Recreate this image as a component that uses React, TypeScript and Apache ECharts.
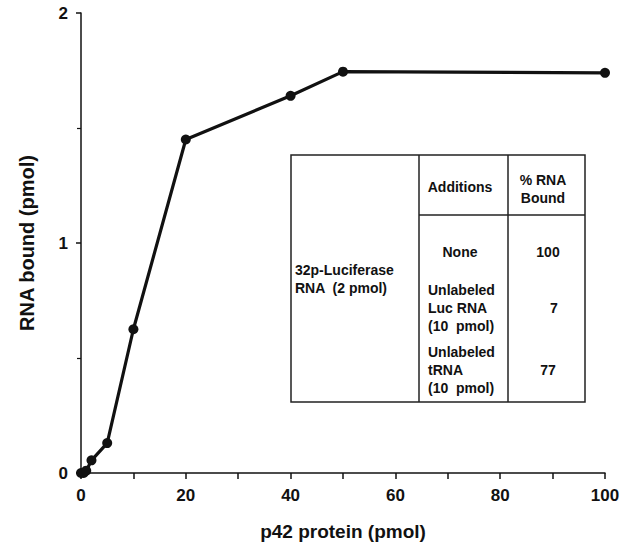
import React, { useEffect, useRef } from "react";
import * as echarts from "echarts";

const proteinPmol = [0, 0.5, 1, 2, 5, 10, 20, 40, 50, 100];
const rnaBound = [0, 0, 0.01, 0.055, 0.13, 0.625, 1.45, 1.64, 1.745, 1.74];

const xTitle = "p42 protein (pmol)";
const yTitle = "RNA bound (pmol)";

const tableHeaders = ["Additions", "% RNA\nBound"];
const tableLeftCell = "32p-Luciferase\nRNA  (2 pmol)";
const tableAdditions = ["None", "Unlabeled\nLuc RNA\n(10  pmol)", "Unlabeled\ntRNA\n(10  pmol)"];
const tablePercent = ["100", "7", "77"];

export default function App() {
  const ref = useRef<HTMLDivElement>(null);
  useEffect(() => {
    if (!ref.current) return;
    const chart = echarts.init(ref.current, undefined, { renderer: "svg" });
    const font = "'Liberation Sans', Arial, Helvetica, sans-serif";
    const T = { x0: 291, x1: 419, x2: 508, x3: 585, y0: 155, yh: 215, y1: 402 };
    const txt = (text: string, x: number, y: number, align: string = "center", lineHeight = 18) => ({
      type: "text",
      x,
      y,
      style: {
        text,
        fill: "#111",
        font: `bold 14px ${font}`,
        textAlign: align,
        textVerticalAlign: "middle",
        lineHeight,
      },
      z: 10,
    });
    const line = (x1: number, y1: number, x2: number, y2: number) => ({
      type: "line",
      shape: { x1, y1, x2, y2 },
      style: { stroke: "#222", lineWidth: 1.5 },
      z: 10,
    });
    chart.setOption({
      animation: false,
      backgroundColor: "#fff",
      grid: { left: 81, width: 524, top: 13, height: 465, containLabel: false },
      xAxis: {
        type: "value",
        min: 0,
        max: 100,
        interval: 20,
        name: xTitle,
        nameLocation: "middle",
        nameGap: 49,
        nameTextStyle: { fontFamily: font, fontWeight: "bold", fontSize: 19, color: "#111" },
        axisLine: { show: true, lineStyle: { color: "#111", width: 1.5 } },
        axisTick: { show: true, length: 6, lineStyle: { color: "#111", width: 1.5 } },
        minorTick: { show: true, splitNumber: 2, length: 6, lineStyle: { color: "#111", width: 1.5 } },
        splitLine: { show: false },
        axisLabel: { fontFamily: font, fontWeight: "bold", fontSize: 17, color: "#111", margin: 14 },
      },
      yAxis: {
        type: "value",
        min: 0,
        max: 2,
        interval: 1,
        name: yTitle,
        nameLocation: "middle",
        nameGap: 44,
        nameTextStyle: { fontFamily: font, fontWeight: "bold", fontSize: 20, color: "#111" },
        axisLine: { show: true, lineStyle: { color: "#111", width: 1.5 } },
        axisTick: { show: true, length: 5, lineStyle: { color: "#111", width: 1.5 } },
        minorTick: { show: true, splitNumber: 2, length: 4, lineStyle: { color: "#111", width: 1.2 } },
        splitLine: { show: false },
        axisLabel: { fontFamily: font, fontWeight: "bold", fontSize: 17, color: "#111", margin: 13 },
      },
      series: [
        {
          type: "line",
          data: proteinPmol.map((x, i) => [x, rnaBound[i]]),
          symbol: "circle",
          symbolSize: 10,
          lineStyle: { color: "#111", width: 3.2 },
          itemStyle: { color: "#111" },
          clip: false,
        },
      ],
      graphic: [
        {
          type: "rect",
          shape: { x: T.x0, y: T.y0, width: T.x3 - T.x0, height: T.y1 - T.y0 },
          style: { fill: "#fff", stroke: "#222", lineWidth: 1.5 },
          z: 9,
        },
        line(T.x1, T.y0, T.x1, T.y1),
        line(T.x2, T.y0, T.x2, T.y1),
        line(T.x1, T.yh, T.x3, T.yh),
        txt(tableHeaders[0], 460, 187),
        txt(tableHeaders[1], 543, 189),
        txt(tableLeftCell, 295, 279, "left"),
        txt(tableAdditions[0], 460, 252),
        txt(tableAdditions[1], 428, 308, "left"),
        txt(tableAdditions[2], 428, 370, "left"),
        txt(tablePercent[0], 548, 252),
        txt(tablePercent[1], 554, 308),
        txt(tablePercent[2], 548, 370),
      ],
    });
    return () => chart.dispose();
  }, []);
  return (
    <div
      ref={ref}
      style={{ position: "fixed", left: 0, top: 0, width: 623, height: 546, background: "#fff" }}
    />
  );
}
